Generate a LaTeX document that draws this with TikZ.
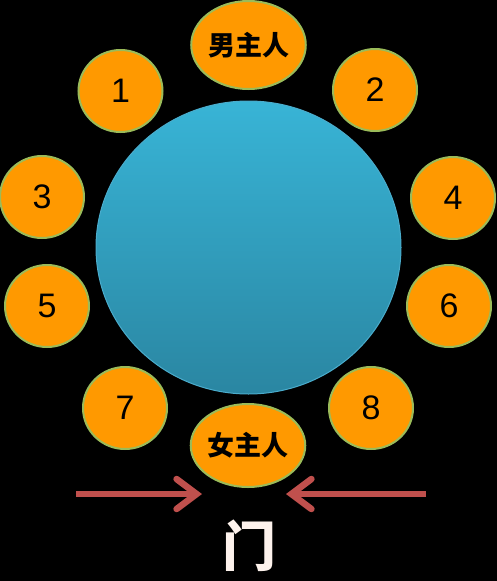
\documentclass[tikz,border=0pt]{standalone}
\usepackage{fontspec}
\setmainfont{Liberation Sans}
\newfontfamily\cjk{Noto Sans CJK SC}
\usepackage{tikz}
\usetikzlibrary{shapes.geometric, arrows.meta, positioning}
\definecolor{seatorange}{RGB}{255,153,0}
\definecolor{seatgreen}{RGB}{155,187,89}
\definecolor{tabletop}{RGB}{56,180,214}
\definecolor{tablebot}{RGB}{42,134,162}
\definecolor{tableedge}{RGB}{74,172,204}
\definecolor{doorred}{RGB}{192,80,77}
\definecolor{doortext}{RGB}{253,242,236}

\begin{document}
\begin{tikzpicture}[x=1pt, y=-1pt,
  seat/.style={ellipse, draw=seatgreen, line width=2pt, fill=seatorange, minimum width=84pt, minimum height=82pt, inner sep=0pt, font=\fontsize{34}{34}\selectfont},
  host/.style={seat, font=\cjk\bfseries\fontsize{27}{27}\selectfont},
  arr/.style={-{Straight Barb[length=20pt, width=30pt, line cap=round]}, line width=6.5pt, doorred},
]
  % background
  \fill[black] (0,0) rectangle (497,581);
  \useasboundingbox (0,0) rectangle (497,581);

  % table
  \node[ellipse, draw=tableedge, line width=1pt, top color=tabletop, bottom color=tablebot,
        minimum width=305pt, minimum height=293pt] (table) at (248.5,247.5) {};

  % hosts
  \node[host, minimum width=94pt, minimum height=88pt] (man) at (248.5,45) {男主人};
  \node[host, minimum width=86pt, minimum height=83pt] (woman) at (248,445.5) {女主人};

  % guests
  \node[seat] (s1) at (120.5,91) {1};
  \node[seat] (s2) at (375,90) {2};
  \node[seat] (s3) at (42,197) {3};
  \node[seat] (s4) at (453,198) {4};
  \node[seat] (s5) at (47,306) {5};
  \node[seat] (s6) at (449,306) {6};
  \node[seat] (s7) at (125,408) {7};
  \node[seat] (s8) at (371,408) {8};

  % door
  \coordinate (lfrom) at (76,494);
  \coordinate (lto) at (202,494);
  \coordinate (rfrom) at (426,494);
  \coordinate (rto) at (286,494);
  \draw[arr] (lfrom) -- (lto);
  \draw[arr] (rfrom) -- (rto);
  \node[text=doortext, font=\cjk\bfseries\fontsize{54}{54}\selectfont] (door) at (249,546) {门};
\end{tikzpicture}
\end{document}
